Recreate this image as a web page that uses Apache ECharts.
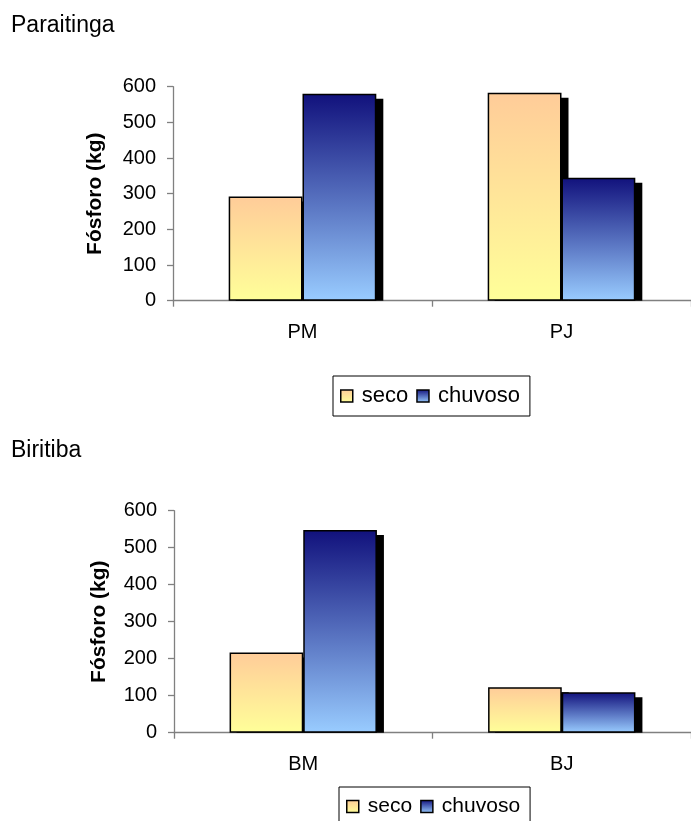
<!DOCTYPE html>
<html>
<head>
<meta charset="utf-8">
<script src="https://cdn.jsdelivr.net/npm/echarts@6/dist/echarts.min.js"></script>
<style>
  html, body { margin: 0; padding: 0; background: #fff; }
  #chart { width: 691px; height: 821px; }
</style>
</head>
<body>
<div id="chart"></div>
<script>
// Fósforo (kg) por estação — Paraitinga e Biritiba
const seriesNames = ['seco', 'chuvoso'];

const catsParaitinga = ['PM', 'PJ'];
const secoParaitinga = [292, 583];
const chuvosoParaitinga = [580, 345];

const catsBiritiba = ['BM', 'BJ'];
const secoBiritiba = [217, 123];
const chuvosoBiritiba = [548, 109];

const yTicks = { min: 0, max: 600, interval: 100 };

const FONT = "'Liberation Sans', Arial, sans-serif";
const BAR_FRAC = 0.285;          // bar width as a share of the category band
const SHADOW_DX = 7, SHADOW_DY = 5;

const secoFill = new echarts.graphic.LinearGradient(0, 0, 0, 1, [
  { offset: 0, color: '#FFCC99' },
  { offset: 1, color: '#FFFF99' }
]);
const chuvosoFill = new echarts.graphic.LinearGradient(0, 0, 0, 1, [
  { offset: 0, color: '#11117C' },
  { offset: 1, color: '#99CCFF' }
]);

// Drop shadow of each bar, cut off at the zero line
function shadowRenderer(side) {
  return function (params, api) {
    const cat = api.value(0);
    const val = api.value(1);
    const top = api.coord([cat, val]);
    const base = api.coord([cat, 0]);
    const band = api.size([1, 0])[0];
    const w = band * BAR_FRAC;
    const x = top[0] + (side === 0 ? -w : 0) + SHADOW_DX;
    const y = top[1] + SHADOW_DY;
    const h = base[1] - y;
    return {
      type: 'rect',
      shape: { x: x, y: y, width: w, height: Math.max(0, h) },
      style: { fill: '#000' }
    };
  };
}

function xAxisFor(grid, cats) {
  return {
    type: 'category', gridIndex: grid, data: cats,
    axisLine: { show: true, lineStyle: { color: '#808080', width: 1.3 } },
    axisTick: { show: true, length: 6, lineStyle: { color: '#808080', width: 1.3 } },
    axisLabel: { color: '#000', fontSize: 20, fontFamily: FONT, margin: 22 },
    splitLine: { show: false }
  };
}

function yAxisFor(grid, gap) {
  return {
    type: 'value', gridIndex: grid,
    min: yTicks.min, max: yTicks.max, interval: yTicks.interval,
    name: 'Fósforo (kg)', nameLocation: 'middle', nameRotate: 90, nameGap: gap,
    nameTextStyle: { color: '#000', fontSize: 21, fontWeight: 'bold', fontFamily: FONT },
    axisLine: { show: true, lineStyle: { color: '#808080', width: 1.3 } },
    axisTick: { show: true, length: 6, lineStyle: { color: '#808080', width: 1.3 } },
    axisLabel: { color: '#000', fontSize: 20, fontFamily: FONT, margin: 17 },
    splitLine: { show: false }
  };
}

function barSeries(name, axisIdx, values, fill) {
  return {
    type: 'bar', name: name, xAxisIndex: axisIdx, yAxisIndex: axisIdx,
    data: values, barWidth: (BAR_FRAC * 100) + '%', barGap: '0%', z: 3,
    itemStyle: { color: fill, borderColor: '#000', borderWidth: 1.5 },
    emphasis: { disabled: true }
  };
}

function shadowSeries(side, axisIdx, values) {
  return {
    type: 'custom', xAxisIndex: axisIdx, yAxisIndex: axisIdx, z: 2,
    renderItem: shadowRenderer(side),
    data: values.map((v, i) => [i, v]),
    silent: true
  };
}

function legendAt(left, top, size) {
  return {
    data: seriesNames, left: left, top: top, orient: 'horizontal', icon: 'rect',
    padding: [9, 10, 9, 7], itemGap: 8, itemWidth: 12, itemHeight: 12,
    borderColor: '#000', borderWidth: 1, selectedMode: false,
    itemStyle: { borderColor: '#000', borderWidth: 1.5 },
    textStyle: { color: '#000', fontSize: size, fontFamily: FONT, padding: [0, 0, 0, 4] }
  };
}

const chart = echarts.init(document.getElementById('chart'), null, { renderer: 'canvas' });
chart.setOption({
  animation: false,
  backgroundColor: '#fff',
  title: [
    { text: 'Paraitinga', left: 11, top: 14, padding: 0,
      textStyle: { fontSize: 23, fontWeight: 'normal', color: '#000', fontFamily: FONT } },
    { text: 'Biritiba', left: 11, top: 439, padding: 0,
      textStyle: { fontSize: 23, fontWeight: 'normal', color: '#000', fontFamily: FONT } }
  ],
  legend: [legendAt(333, 376, 22), legendAt(339, 787, 21)],
  grid: [
    { left: 173, top: 86.7, width: 520, height: 214 },
    { left: 174, top: 510.7, width: 523, height: 222 }
  ],
  xAxis: [xAxisFor(0, catsParaitinga), xAxisFor(1, catsBiritiba)],
  yAxis: [yAxisFor(0, 67), yAxisFor(1, 64)],
  series: [
    shadowSeries(0, 0, secoParaitinga),
    shadowSeries(1, 0, chuvosoParaitinga),
    barSeries('seco', 0, secoParaitinga, secoFill),
    barSeries('chuvoso', 0, chuvosoParaitinga, chuvosoFill),
    shadowSeries(0, 1, secoBiritiba),
    shadowSeries(1, 1, chuvosoBiritiba),
    barSeries('seco', 1, secoBiritiba, secoFill),
    barSeries('chuvoso', 1, chuvosoBiritiba, chuvosoFill)
  ]
});
</script>
</body>
</html>
